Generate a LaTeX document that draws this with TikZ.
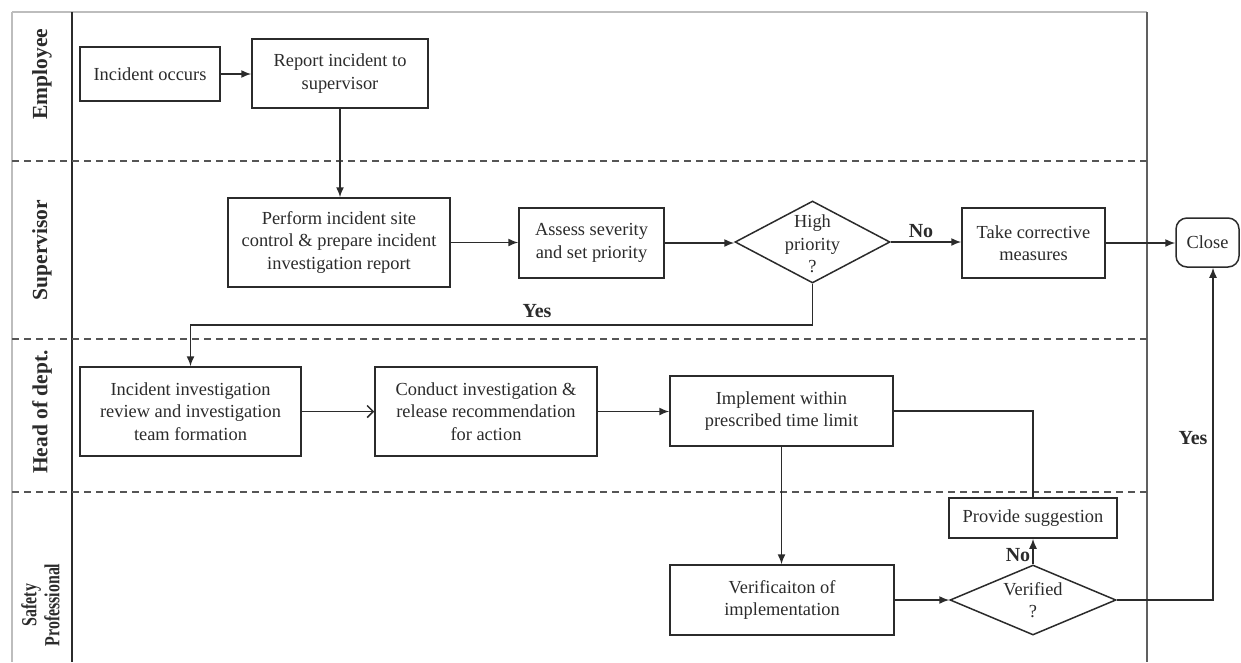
\documentclass[tikz,border=0pt]{standalone}
\usepackage{fontspec}
\setmainfont{Liberation Serif}
\usetikzlibrary{arrows.meta,shapes.geometric}
\definecolor{ink}{HTML}{2B2B2B}
\definecolor{frame}{HTML}{BDBDBD}
\begin{document}
\begin{tikzpicture}[x=1pt,y=-1pt,
  every node/.style={text=ink},
  txt/.style={font=\fontsize{18.4}{22.5}\selectfont, align=center},
  box/.style={txt, draw=ink, line width=1.5pt, inner sep=0pt, fill=white},
  dia/.style={draw=ink, line width=1.5pt, shape=diamond, inner sep=0pt, fill=white},
  lane/.style={font=\fontsize{21.5}{24}\selectfont\bfseries, align=center, rotate=90},
  lbl/.style={font=\fontsize{20}{22}\selectfont\bfseries},
  conn/.style={draw=ink, line width=1.5pt, -{Latex[length=10pt,width=8pt]}},
  plain/.style={draw=ink, line width=1.5pt},
  openconn/.style={draw=ink, line width=1.5pt, -{Straight Barb[length=6pt,width=12pt,line width=1.5pt]}},
  sep/.style={draw=ink!80, line width=1.4pt, dash pattern=on 7pt off 5pt}
]
\useasboundingbox (0,0) rectangle (1241,662);
% frame
\draw[frame, line width=1.6pt] (12,12) -- (1147,12);
\draw[frame, line width=2pt] (12,12) -- (12,662);
\draw[ink, line width=1.5pt] (72,12) -- (72,662);
\draw[ink!75, line width=2.2pt] (1147,12) -- (1147,662);
\draw[sep] (12,161) -- (1147,161);
\draw[sep] (12,339) -- (1147,339);
\draw[sep] (12,492) -- (1147,492);
% lane labels
\node[lane] (l1) at (42,74) {Employee};
\node[lane] (l2) at (42,250) {Supervisor};
\node[lane] (l3) at (42,412) {Head of dept.};
\node[lane, inner sep=0pt] (l4) at (43,605) {\scalebox{0.74}[1]{\begin{tabular}{@{}c@{}}Safety\\[-1pt]Professional\end{tabular}}};
% nodes
\node[box, minimum width=140, minimum height=54] (inc) at (150,74) {Incident occurs};
\node[box, minimum width=176, minimum height=69] (rep) at (340,73.5) {Report incident to\\supervisor};
\node[box, minimum width=222, minimum height=89] (perf) at (339,242.5) {Perform incident site\\control \& prepare incident\\investigation report};
\node[box, minimum width=145, minimum height=70] (ass) at (591.5,243) {Assess severity\\and set priority};
\node[dia, minimum width=155, minimum height=82] (hp) at (812.5,242) {};
\node[txt] (hpt) at (812.5,244) {High\\priority\\?};
\node[box, minimum width=143, minimum height=70] (take) at (1033.5,243) {Take corrective\\measures};
\node[box, rounded corners=11pt, minimum width=63, minimum height=49] (close) at (1207.5,242.5) {Close};
\node[box, minimum width=221, minimum height=89] (iir) at (190.5,411.5) {Incident investigation\\review and investigation\\team formation};
\node[box, minimum width=222, minimum height=89] (cond) at (486,411.5) {Conduct investigation \&\\release recommendation\\for action};
\node[box, minimum width=223, minimum height=70] (impl) at (781.5,411) {Implement within\\prescribed time limit};
\node[box, minimum width=224, minimum height=70] (verif) at (782,600) {Verificaiton of\\implementation};
\node[dia, minimum width=166, minimum height=70] (vd) at (1033,600) {};
\node[txt] (vdt) at (1033,600) {Verified\\?};
\node[box, minimum width=168, minimum height=40] (prov) at (1033,518) {Provide suggestion};
% coordinates
\coordinate (yesA) at (812.5,325);
\coordinate (yesB) at (190.5,325);
\coordinate (ret) at (1033,411);
\coordinate (yesC) at (1213,600);
% connectors
\draw[conn] (inc.east) -- (inc.east -| rep.west);
\draw[conn] (rep.south) -- (rep.south |- perf.north);
\draw[conn] (perf.east) -- (perf.east -| ass.west);
\draw[conn] (ass.east) -- (ass.east -| hp.west);
\draw[conn] (hp.east) -- (hp.east -| take.west);
\draw[conn] (take.east) -- (take.east -| close.west);
\draw[conn] (hp.south) -- (yesA) -- (yesB) -- (iir.north);
\draw[openconn] (iir.east) -- (iir.east -| cond.west);
\draw[conn] (cond.east) -- (cond.east -| impl.west);
\draw[plain] (impl.east) -- (ret) -- (prov.north);
\draw[conn] (impl.south) -- (impl.south |- verif.north);
\draw[conn] (verif.east) -- (vd.west);
\draw[conn] (vd.north) -- (prov.south);
\draw[conn] (vd.east) -- (yesC) -- (yesC |- close.south);
% labels
\node[lbl] (lno1) at (921,231) {No};
\node[lbl] (lyes1) at (537,311) {Yes};
\node[lbl] (lno2) at (1018,555) {No};
\node[lbl] (lyes2) at (1193,438) {Yes};
\end{tikzpicture}
\end{document}
